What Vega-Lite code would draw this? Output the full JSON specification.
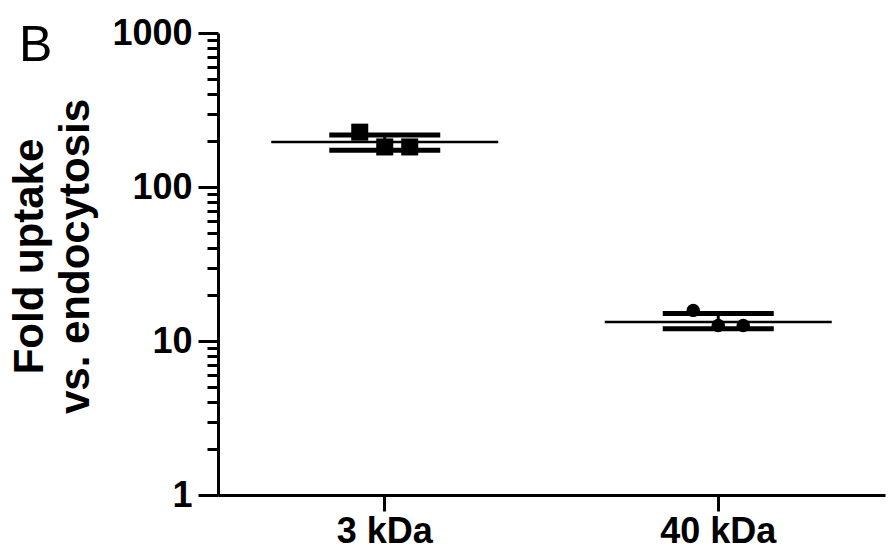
{
  "$schema": "https://vega.github.io/schema/vega-lite/v6.json",
  "width": 667,
  "height": 462,
  "autosize": "none",
  "padding": {"left": 218, "top": 33, "right": 5, "bottom": 54},
  "background": "white",
  "config": {"view": {"stroke": null}, "font": "Liberation Sans"},
  "title": {"text": "B", "anchor": "start", "frame": "group", "dx": -199, "dy": 100, "fontSize": 50, "fontWeight": "normal", "font": "Liberation Sans", "color": "black", "baseline": "alphabetic"},
  "datasets": {
    "points": [
      {"group": "3 kDa", "rep": 1, "value": 227},
      {"group": "3 kDa", "rep": 2, "value": 182},
      {"group": "3 kDa", "rep": 3, "value": 182},
      {"group": "40 kDa", "rep": 1, "value": 15.8},
      {"group": "40 kDa", "rep": 2, "value": 12.6},
      {"group": "40 kDa", "rep": 3, "value": 12.6}
    ],
    "summary": [
      {"group": "3 kDa", "mean": 196, "low": 173, "high": 218},
      {"group": "40 kDa", "mean": 13.3, "low": 12.0, "high": 15.1}
    ]
  },
  "encoding": {
    "x": {
      "field": "group", "type": "nominal",
      "scale": {"type": "band", "paddingInner": 0.85, "paddingOuter": 0.425},
      "axis": {"title": null, "labelAngle": 0, "tickSize": 16, "tickWidth": 3, "tickColor": "black", "domainColor": "black", "domainWidth": 3, "labelFontSize": 36, "labelFont": "Liberation Sans", "labelFontWeight": "bold", "labelColor": "black", "labelPadding": 3, "grid": false}
    }
  },
  "layer": [
    {
      "data": {"name": "summary"},
      "mark": {"type": "rule", "color": "black", "strokeWidth": 3},
      "encoding": {
        "y": {
          "field": "low", "type": "quantitative",
          "scale": {"type": "log", "domain": [1, 1000], "nice": false},
          "axis": {
            "title": ["Fold uptake", "vs. endocytosis"],
            "titleFontSize": 42, "titleFont": "Liberation Sans", "titleFontWeight": "bold", "titleColor": "black",
            "titleLineHeight": 46, "titleBaseline": "alphabetic", "titleAlign": "center",
            "titleX": -176, "titleY": 223, "titleAngle": -90,
            "values": [1,2,3,4,5,6,7,8,9,10,20,30,40,50,60,70,80,90,100,200,300,400,500,600,700,800,900,1000],
            "labelExpr": "indexof([1,10,100,1000], datum.value) >= 0 ? '' + datum.value : ''",
            "tickSize": {"condition": {"test": "indexof([1,10,100,1000], datum.value) >= 0", "value": 20}, "value": 11},
            "tickWidth": 3, "tickColor": "black", "domainColor": "black", "domainWidth": 3,
            "labelFontSize": 36, "labelFont": "Liberation Sans", "labelFontWeight": "bold", "labelColor": "black",
            "labelPadding": 6, "grid": false
          }
        },
        "y2": {"field": "high"}
      }
    },
    {
      "data": {"name": "summary"},
      "mark": {"type": "tick", "color": "black", "size": 111, "thickness": 5, "opacity": 1},
      "encoding": {"y": {"field": "low", "type": "quantitative"}}
    },
    {
      "data": {"name": "summary"},
      "mark": {"type": "tick", "color": "black", "size": 111, "thickness": 5, "opacity": 1},
      "encoding": {"y": {"field": "high", "type": "quantitative"}}
    },
    {
      "data": {"name": "summary"},
      "mark": {"type": "tick", "color": "black", "size": 227, "thickness": 2.5, "opacity": 1},
      "encoding": {"y": {"field": "mean", "type": "quantitative"}}
    },
    {
      "data": {"name": "points"},
      "mark": {"type": "point", "filled": true, "color": "black", "opacity": 1},
      "encoding": {
        "xOffset": {"field": "rep", "type": "nominal", "scale": {"type": "point", "range": [0, 50], "padding": 0}},
        "y": {"field": "value", "type": "quantitative"},
        "shape": {"field": "group", "type": "nominal", "scale": {"range": ["square", "circle"]}, "legend": null},
        "size": {"field": "group", "type": "nominal", "scale": {"range": [290, 180]}, "legend": null}
      }
    }
  ]
}
